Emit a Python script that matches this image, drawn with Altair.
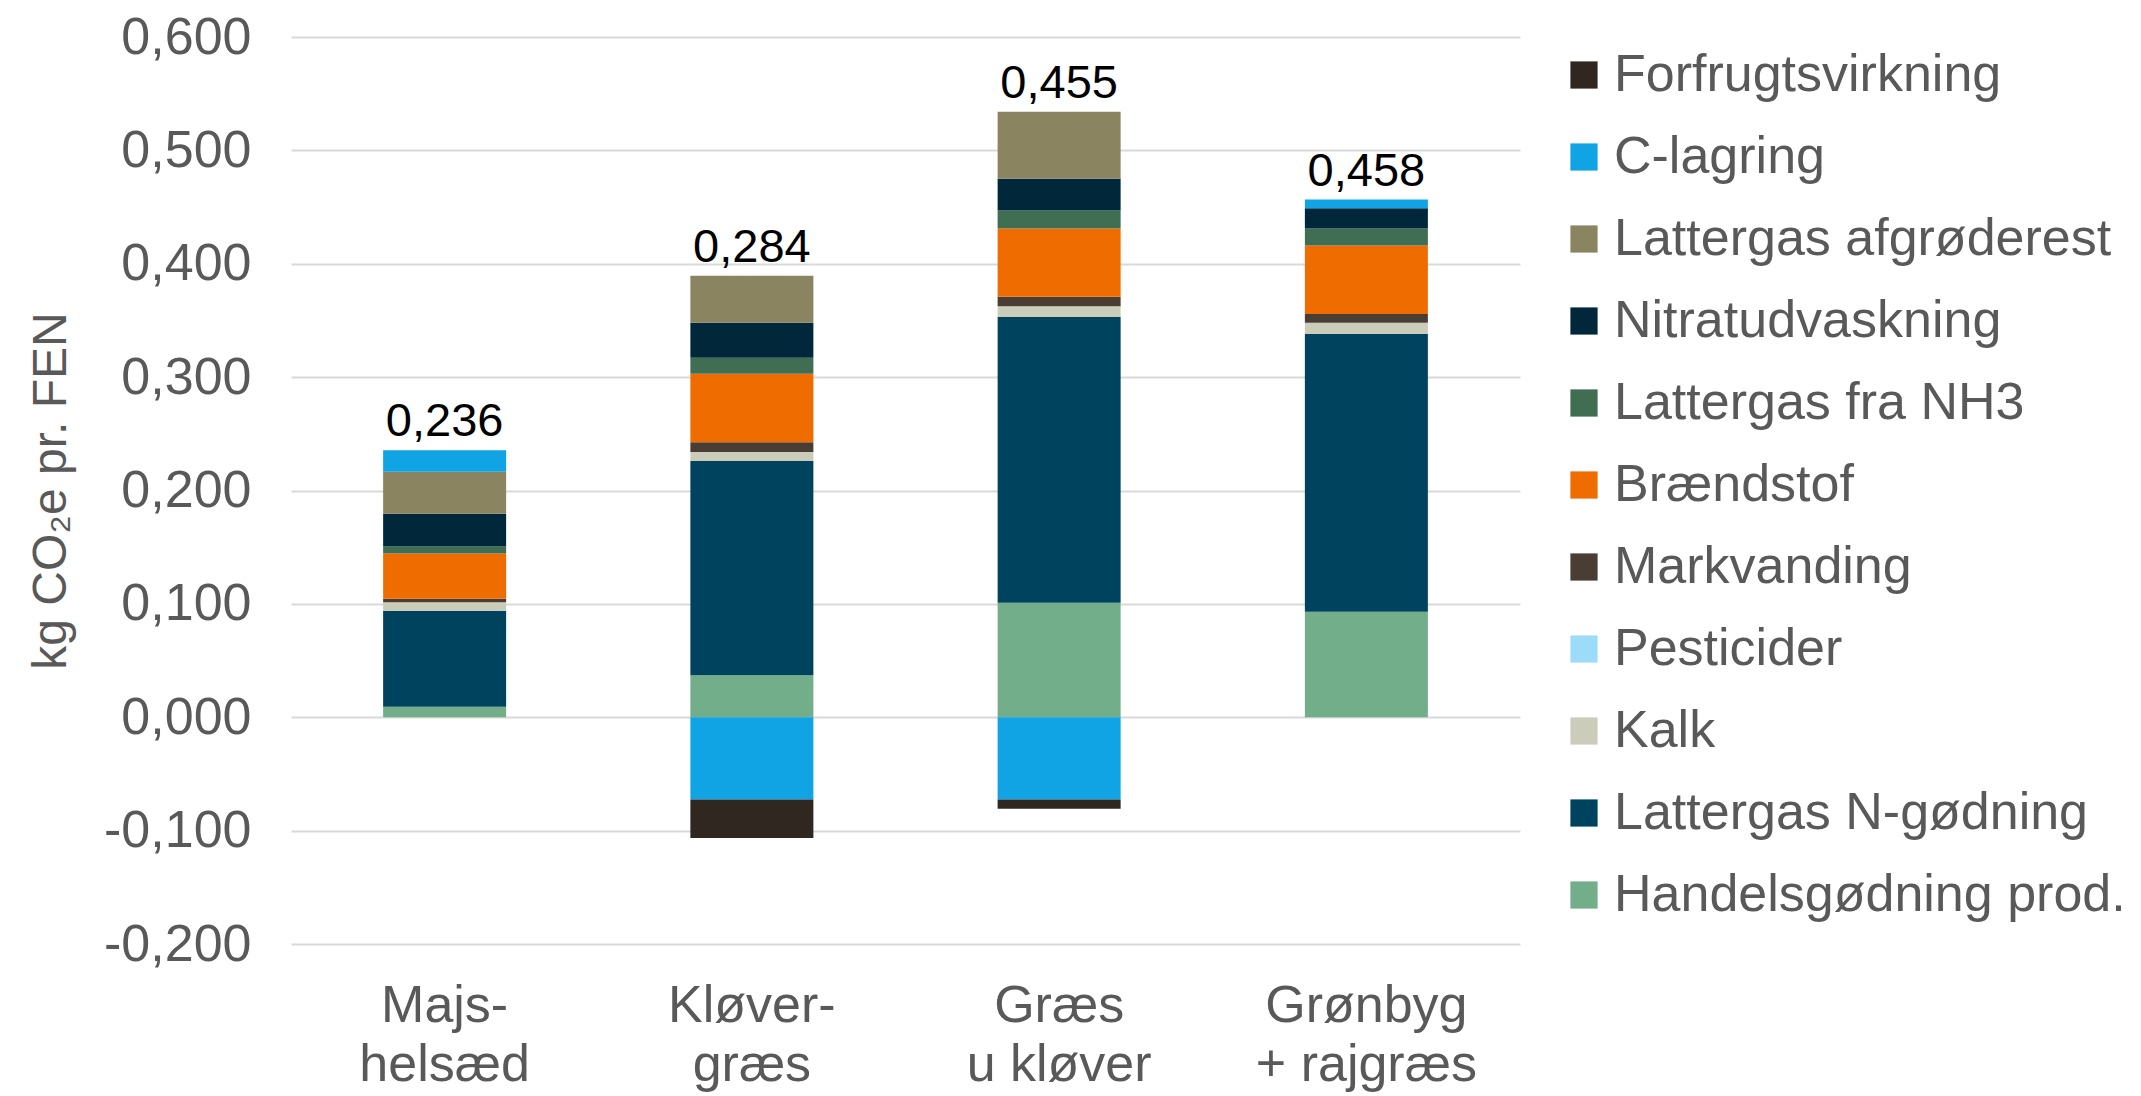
import altair as alt
import pandas as pd

categories = ["Majs-\nhelsæd", "Kløver-\ngræs", "Græs\nu kløver", "Grønbyg\n+ rajgræs"]
series = ["Handelsgødning prod.", "Lattergas N-gødning", "Kalk", "Pesticider", "Markvanding",
          "Brændstof", "Lattergas fra NH3", "Nitratudvaskning", "Lattergas afgrøderest",
          "C-lagring", "Forfrugtsvirkning"]
colors = ["#72AE8A", "#00435E", "#CCCCBB", "#9DDCF9", "#4A3D33",
          "#EF6C00", "#3F6E52", "#00283A", "#8A8461", "#10A4E5", "#2F2720"]

handels = [0.0092, 0.037, 0.101, 0.093]
n_godning = [0.0848, 0.189, 0.252, 0.245]
kalk = [0.0075, 0.008, 0.0095, 0.010]
pesticider = [0.0, 0.0, 0.0, 0.0]
markvanding = [0.003, 0.0085, 0.0085, 0.0077]
braendstof = [0.040, 0.0605, 0.060, 0.0603]
nh3 = [0.006, 0.014, 0.016, 0.015]
nitrat = [0.029, 0.031, 0.028, 0.018]
afgroderest = [0.037, 0.0415, 0.059, 0.0]
c_lagring = [0.019, -0.0726, -0.0726, 0.0076]
forfrugt = [0.0, -0.034, -0.008, 0.0]
totals = ["0,236", "0,284", "0,455", "0,458"]

values = [handels, n_godning, kalk, pesticider, markvanding, braendstof, nh3, nitrat,
          afgroderest, c_lagring, forfrugt]

rows = []
for si, (s, vals) in enumerate(zip(series, values)):
    for c, v in zip(categories, vals):
        rows.append({"cat": c, "series": s, "value": v, "order": si})
df = pd.DataFrame(rows)

pos_tops = []
for ci in range(len(categories)):
    pos_tops.append(sum(v[ci] for v in values if v[ci] > 0))
df_lab = pd.DataFrame({"cat": categories, "top": pos_tops, "label": totals})

FONT = "Liberation Sans"
GREY = "#595959"
FS = 52

x = alt.X("cat:N", sort=categories, title=None,
          scale=alt.Scale(paddingInner=0.6, paddingOuter=0.3),
          axis=alt.Axis(labelExpr="split(datum.label, '\\n')", labelFontSize=FS,
                        labelColor=GREY, labelFont=FONT, labelAngle=0, ticks=False,
                        domain=False, labelPadding=36, labelLineHeight=59, labelLimit=600))
y_axis = alt.Axis(values=[-0.2, -0.1, 0, 0.1, 0.2, 0.3, 0.4, 0.5, 0.6],
                  labelExpr="replace(replace(format(datum.value, '.3f'), '.', ','), '\u2212', '-')",
                  labelFontSize=FS, labelColor=GREY, labelFont=FONT, ticks=False,
                  domain=False, labelPadding=40, gridColor="#D9D9D9", gridWidth=2,
                  title="kg CO\u2082e pr. FEN", titleFontSize=48, titleColor=GREY,
                  titleFont=FONT, titleFontWeight="normal", titlePadding=28)

legend_order = list(reversed(series))
legend_colors = list(reversed(colors))

bars = alt.Chart(df).mark_bar(size=123).encode(
    x=x,
    y=alt.Y("value:Q", stack="zero", scale=alt.Scale(domain=[-0.2, 0.6], nice=False),
            axis=y_axis),
    color=alt.Color("series:N", scale=alt.Scale(domain=legend_order, range=legend_colors),
                    legend=alt.Legend(title=None, orient="none", legendX=1267, legendY=12,
                                      symbolType="square", symbolSize=740,
                                      symbolStrokeWidth=0, labelFontSize=FS,
                                      labelFont=FONT, labelColor=GREY, rowPadding=30,
                                      labelOffset=4, labelLimit=700)),
    order=alt.Order("order:Q", sort="ascending"),
)

labels = alt.Chart(df_lab).mark_text(baseline="bottom", dy=-4, fontSize=47, font=FONT,
                                     color="black").encode(
    x=alt.X("cat:N", sort=categories),
    y=alt.Y("top:Q"),
    text="label:N",
)

chart = alt.layer(bars, labels).properties(
    width=1229, height=907, background="white",
    padding={"top": 3, "left": 19, "right": 5, "bottom": 3}
).configure_view(stroke=None)

chart.save("out.html", embed_options={"renderer": "svg", "actions": False})
